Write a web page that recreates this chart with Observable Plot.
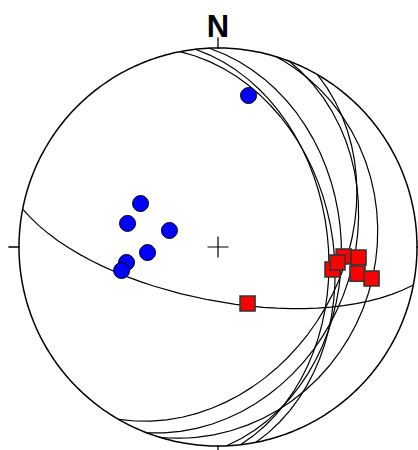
<!DOCTYPE html>
<html><head><meta charset="utf-8">
<script src="https://cdn.jsdelivr.net/npm/d3@7"></script>
<script src="https://cdn.jsdelivr.net/npm/@observablehq/plot@0.6"></script>
<style>body{margin:0;background:#fff}</style>
</head><body><div id="chart"></div>
<script>
// Great circles (planes): strike (right-hand rule) and dip, degrees
const planeStrikes = [101, 349, 353.5, 357.5, 17, 21, 30];
const planeDips    = [68, 42, 44, 38, 22, 33, 38];
// Blue circles: trend / plunge, degrees
const circleTrends  = [11.4, 299.3, 284.6, 288.8, 265.5, 260.4, 256.3];
const circlePlunges = [23.4, 53.2, 51.2, 69.0, 60.9, 51.5, 48.7];
// Red squares: trend / plunge, degrees
const squareTrends  = [101.1, 94.3, 97.4, 94.3, 100.8, 101.6, 152.4];
const squarePlunges = [41.0, 36.8, 39.3, 29.9, 29.4, 22.3, 63.8];
// Cardinal ticks and label
const cardinalTrends = [0, 90, 180, 270];
const northLabel = "N";

// lower-hemisphere direction -> point on the sphere (lon, lat); view centred on lat 90
const toGeo = (trend, plunge) => [180 - trend, plunge];

const planes = planeStrikes.map((s, i) => ({
  type: "LineString",
  coordinates: [toGeo(s, 0), toGeo(s + 90, planeDips[i]), toGeo(s + 180, 0)]
}));
const circles = circleTrends.map((t, i) => ({trend: t, plunge: circlePlunges[i]}));
const squares = squareTrends.map((t, i) => ({trend: t, plunge: squarePlunges[i]}));
const primitive = {type: "LineString", coordinates: d3.geoCircle().center([0, 90]).radius(90).precision(1)().coordinates[0]};
const tickLen = 6;
const ticks = cardinalTrends.map(t => ({type: "LineString", coordinates: [toGeo(t, 0), toGeo(t, -tickLen)]}));

const chart = Plot.plot({
  width: 418,
  height: 450,
  marginLeft: 18.5,
  marginRight: 1.5,
  marginTop: 47.5,
  marginBottom: 4.5,
  style: {fontFamily: "'Liberation Sans', Arial, sans-serif", background: "#fff"},
  projection: {type: "azimuthal-equal-area", rotate: [0, -90], domain: primitive, clip: 120},
  marks: [
    Plot.geo([primitive], {stroke: "black", strokeWidth: 1.5, fill: "none"}),
    Plot.geo(planes, {stroke: "black", strokeWidth: 1.2, fill: "none"}),
    Plot.geo(ticks, {stroke: "black", strokeWidth: 1.3}),
    Plot.dot([{trend: 0, plunge: 90}], {x: d => toGeo(d.trend, d.plunge)[0], y: d => toGeo(d.trend, d.plunge)[1], symbol: "plus", r: 6.8, stroke: "black", strokeWidth: 1.2}),
    Plot.dot(circles, {x: d => toGeo(d.trend, d.plunge)[0], y: d => toGeo(d.trend, d.plunge)[1], r: 8, fill: "#0000ff", stroke: "black", strokeWidth: 1}),
    Plot.dot(squares, {x: d => toGeo(d.trend, d.plunge)[0], y: d => toGeo(d.trend, d.plunge)[1], symbol: "square", r: 8.5, fill: "#ff0000", stroke: "#333", strokeWidth: 1.5}),
    Plot.text([northLabel], {x: () => toGeo(0, 0)[0], y: () => toGeo(0, 0)[1], text: d => d, dy: -21, fontSize: 31, fontWeight: "bold", fill: "black"})
  ]
});
document.getElementById("chart").appendChild(chart);
</script>
</body></html>
